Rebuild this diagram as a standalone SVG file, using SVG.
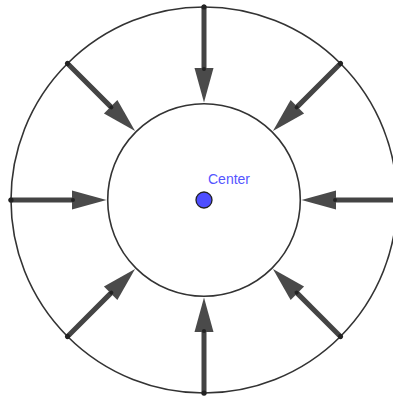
<svg xmlns="http://www.w3.org/2000/svg" xmlns:xlink="http://www.w3.org/1999/xlink" width="393" height="398" viewBox="0 0 393 398">
<style>
.ring{fill:none;stroke:#333;stroke-width:1.6}
.shaft{stroke:#444;stroke-width:5;stroke-linecap:round}
.head{fill:#4a4a4a}
.pt{fill:#222}
.lbl{font-family:"Liberation Sans",Arial,sans-serif;font-size:14px;fill:#5555ff}
</style>
<defs>
<g id="arrow">
<line class="shaft" x1="0" y1="-193" x2="0" y2="-131"/>
<polygon class="head" points="-9.5,-132 9.5,-132 0,-97.5"/>
<circle class="pt" cx="0" cy="-131" r="2"/>
<circle class="pt" cx="0" cy="-193" r="2.6"/>
</g>
</defs>
<rect width="393" height="398" fill="#fff"/>
<g id="outer-circle"><circle class="ring" cx="204" cy="200" r="193"/></g>
<g id="inner-circle"><circle class="ring" cx="204" cy="200" r="96.3"/></g>
<g id="connectors" transform="translate(204,200)">
<use xlink:href="#arrow" transform="rotate(0)"/>
<use xlink:href="#arrow" transform="rotate(45)"/>
<use xlink:href="#arrow" transform="rotate(90)"/>
<use xlink:href="#arrow" transform="rotate(135)"/>
<use xlink:href="#arrow" transform="rotate(180)"/>
<use xlink:href="#arrow" transform="rotate(225)"/>
<use xlink:href="#arrow" transform="rotate(270)"/>
<use xlink:href="#arrow" transform="rotate(315)"/>
</g>
<g id="center">
<circle cx="204" cy="200" r="8" fill="#4d4dff" stroke="#222" stroke-width="1.3"/>
<text class="lbl" x="208" y="184">Center</text>
</g>
</svg>
